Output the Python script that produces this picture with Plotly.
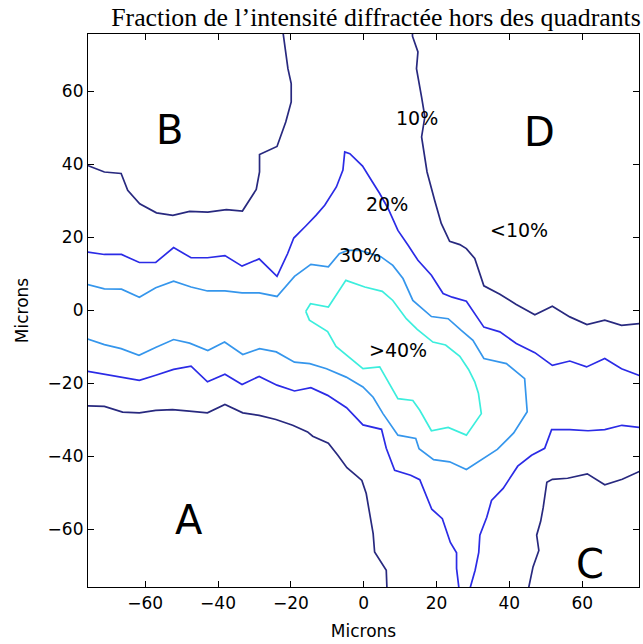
import plotly.graph_objects as go

# ---- digitised contour paths (microns) ----
c10_B = [(-75.8, 39.7), (-71.2, 37.9), (-66.6, 37.5), (-64.8, 32.9), (-61.5, 29.2), (-56.9, 26.7),
         (-52.4, 26.0), (-47.8, 27.1), (-42.8, 26.9), (-37.7, 27.6), (-33.3, 27.2), (-29.5, 33.1),
         (-28.6, 37.9), (-28.6, 42.7), (-23.8, 44.9), (-21.4, 51.6), (-19.9, 57.1), (-19.9, 62.1),
         (-20.8, 66.2), (-22.0, 74.9), (-22.2, 76.5)]
c10_D = [(13.4, 76.5), (13.4, 75.1), (14.9, 70.8), (14.5, 66.2), (15.9, 58.4), (16.8, 53.0),
         (15.9, 47.5), (17.4, 37.9), (19.5, 30.1), (21.3, 23.8), (23.6, 18.9), (26.4, 18.0),
         (28.2, 16.9), (30.5, 14.2), (33.0, 6.7), (37.4, 4.4), (41.9, 1.6), (47.0, -1.2),
         (51.8, 1.1), (56.6, -1.8), (61.3, -3.9), (66.2, -2.7), (70.8, -4.1), (76.0, -3.6)]
c10_A = [(-76.0, -26.2), (-71.2, -26.3), (-66.2, -27.9), (-61.6, -28.1), (-57.1, -27.4), (-52.5, -27.2),
         (-47.9, -27.6), (-42.9, -28.1), (-38.1, -25.8), (-33.2, -28.1), (-28.7, -28.8), (-24.1, -29.9),
         (-19.5, -31.5), (-15.4, -33.3), (-14.0, -34.5), (-9.7, -36.4), (-7.1, -39.7), (-4.6, -43.1),
         (-2.1, -45.2), (-0.5, -46.6), (0.7, -50.2), (1.6, -55.7), (2.6, -61.2), (3.0, -66.2),
         (4.9, -69.4), (6.2, -71.2), (6.4, -76.5)]
c10_C = [(45.2, -76.5), (46.5, -70.3), (48.1, -65.8), (47.5, -61.6), (48.6, -57.8), (49.3, -54.0),
         (50.3, -47.1), (51.8, -46.3), (56.0, -46.0), (61.4, -44.8), (66.2, -47.8), (71.0, -46.3),
         (76.0, -44.0)]
c20_top = [(-76.0, 16.0), (-71.2, 15.3), (-66.5, 15.3), (-61.6, 13.1), (-57.1, 13.1), (-52.2, 17.2),
           (-47.4, 14.4), (-42.9, 14.4), (-38.1, 15.0), (-33.4, 12.1), (-28.7, 14.1), (-23.8, 9.3),
           (-20.9, 15.5), (-19.2, 19.8), (-15.9, 23.1), (-13.1, 26.0), (-10.7, 28.8), (-7.5, 33.8),
           (-5.7, 38.4), (-5.2, 43.4), (-3.8, 42.9), (-0.3, 39.5), (2.2, 35.5), (4.4, 32.0),
           (6.7, 27.9), (9.4, 21.9), (12.2, 17.8), (14.9, 13.7), (18.6, 9.6), (21.8, 4.6),
           (24.3, 3.6), (28.2, 2.5), (33.0, -4.6), (37.4, -5.9), (41.9, -9.1), (47.0, -11.6),
           (51.8, -15.1), (56.6, -13.9), (61.2, -15.5), (66.2, -13.2), (70.8, -16.0), (76.0, -18.0)]
c20_left = [(-76.0, -16.7), (-71.2, -17.5), (-66.5, -18.3), (-61.6, -19.2), (-57.1, -17.8), (-52.2, -16.2),
            (-47.4, -15.3), (-42.9, -19.6), (-38.1, -17.5), (-33.4, -20.3), (-28.7, -18.1), (-23.8, -20.5),
            (-19.0, -22.1), (-14.5, -21.2), (-9.9, -23.3), (-4.7, -26.7), (-0.2, -31.4), (4.9, -32.6),
            (6.2, -37.8), (8.5, -43.8), (12.9, -45.2), (15.4, -46.4), (18.7, -54.5), (21.6, -57.1),
            (23.8, -63.6), (25.5, -66.4), (25.5, -70.7), (26.2, -76.5)]
c20_right = [(29.1, -76.5), (30.6, -71.2), (31.6, -66.3), (31.9, -61.6), (33.8, -56.7), (35.1, -52.1),
             (38.3, -48.8), (42.3, -42.7), (46.1, -39.7), (49.7, -37.8), (51.6, -32.7), (56.6, -32.7),
             (61.6, -33.0), (66.2, -32.7), (70.9, -31.5), (76.0, -32.1)]
c30 = [(-76.0, 7.1), (-71.2, 5.9), (-66.5, 5.8), (-61.6, 3.6), (-57.1, 6.2), (-52.2, 8.0), (-47.4, 6.4),
       (-42.9, 5.3), (-38.1, 5.3), (-33.4, 4.8), (-28.7, 4.8), (-23.8, 3.8), (-19.0, 9.3), (-14.5, 12.6),
       (-9.7, 11.9), (-6.7, 15.5), (-4.4, 16.4), (-1.1, 16.4), (4.7, 14.7), (8.0, 12.3), (10.8, 8.7),
       (13.5, 2.7), (18.6, -1.7), (23.2, -2.3), (26.8, -5.5), (30.0, -8.2), (33.0, -13.2), (39.2, -14.6),
       (44.2, -18.7), (44.9, -27.8), (41.2, -33.6), (36.7, -38.1), (28.2, -43.6), (23.6, -41.5),
       (19.2, -40.9), (15.2, -37.9), (14.3, -35.1), (9.4, -34.2), (5.3, -28.3), (2.6, -23.8),
       (-0.2, -21.0), (-4.8, -18.3), (-10.2, -16.0), (-14.8, -14.6), (-19.0, -14.2), (-24.0, -11.4),
       (-28.6, -10.5), (-33.2, -12.1), (-38.2, -8.7), (-42.8, -11.0), (-47.8, -9.0), (-52.2, -8.0),
       (-57.0, -10.1), (-61.7, -12.3), (-66.6, -10.5), (-71.2, -9.4), (-76.0, -7.8)]
c40 = [(-15.9, -0.3), (-14.6, 1.8), (-9.7, 0.9), (-4.9, 8.2), (0.3, 6.4), (5.1, 5.2), (8.0, 2.7),
       (9.9, 0.3), (11.7, -2.3), (14.7, -5.2), (19.0, -8.7), (22.5, -9.5), (26.4, -12.6), (28.8, -16.2),
       (30.5, -19.6), (31.5, -22.7), (32.3, -28.3), (28.2, -34.2), (23.2, -32.1), (18.6, -33.0),
       (15.4, -27.4), (13.5, -24.7), (9.4, -24.2), (4.4, -15.5), (-0.2, -16.0), (-7.6, -9.9),
       (-9.9, -5.8), (-14.9, -2.7), (-15.9, -0.3)]

level_colors = {"10": "#28297f", "20": "#2b2be6", "30": "#3596ec", "40": "#3ceedd"}
segments = [("10", c10_B), ("10", c10_D), ("10", c10_A), ("10", c10_C),
            ("20", c20_top), ("20", c20_left), ("20", c20_right),
            ("30", c30), ("40", c40)]

# annotations: text, x, y
region_labels = [("B", -53.4, 49.3), ("D", 48.4, 48.9), ("A", -47.9, -57.5), ("C", 62.1, -69.4)]
level_labels = [("10%", 14.6, 52.8), ("20%", 6.4, 29.2), ("30%", -1.1, 15.1),
                ("<10%", 42.7, 21.9), (">40%", 9.4, -11.0)]

x_ticks = [-60, -40, -20, 0, 20, 40, 60]
y_ticks = [-60, -40, -20, 0, 20, 40, 60]

fig = go.Figure()
for lvl, seg in segments:
    fig.add_trace(go.Scatter(x=[p[0] for p in seg], y=[p[1] for p in seg], mode="lines",
                             line=dict(color=level_colors[lvl], width=1.7),
                             showlegend=False, hoverinfo="skip"))

for t, x, y in region_labels:
    fig.add_annotation(x=x, y=y, text=t, showarrow=False,
                       font=dict(family="DejaVu Sans", size=40, color="black"))
for t, x, y in level_labels:
    fig.add_annotation(x=x, y=y, text=t.replace("<", "&lt;").replace(">", "&gt;"), showarrow=False,
                       font=dict(family="DejaVu Sans", size=19, color="black"))

axis_common = dict(showgrid=False, zeroline=False, ticks="inside", ticklen=6, tickwidth=1,
                   tickcolor="black", mirror="ticks", showline=True, linecolor="black",
                   linewidth=1.2, automargin=False,
                   tickfont=dict(family="DejaVu Sans", size=17, color="black"))
fig.update_xaxes(range=[-75.7, 75.6], tickvals=x_ticks,
                 title=dict(text="Microns", font=dict(family="DejaVu Sans", size=17, color="black"),
                            standoff=13), **axis_common)
fig.update_yaxes(range=[-75.8, 75.7], tickvals=y_ticks,
                 title=dict(text="Microns", font=dict(family="DejaVu Sans", size=17, color="black"),
                            standoff=14), **axis_common)

fig.update_layout(
    width=643, height=644,
    margin=dict(l=88, r=4, t=34, b=57),
    plot_bgcolor="white", paper_bgcolor="white",
    title=dict(text="Fraction de l’intensité diffractée hors des quadrants",
               x=376 / 643, xanchor="center", y=1 - 17 / 644, yanchor="middle",
               font=dict(family="Liberation Serif", size=25.8, color="black")),
)
fig.write_html("out.html", config={"displayModeBar": False},
               post_script="document.body.style.margin='0';document.body.style.overflow='hidden';")
